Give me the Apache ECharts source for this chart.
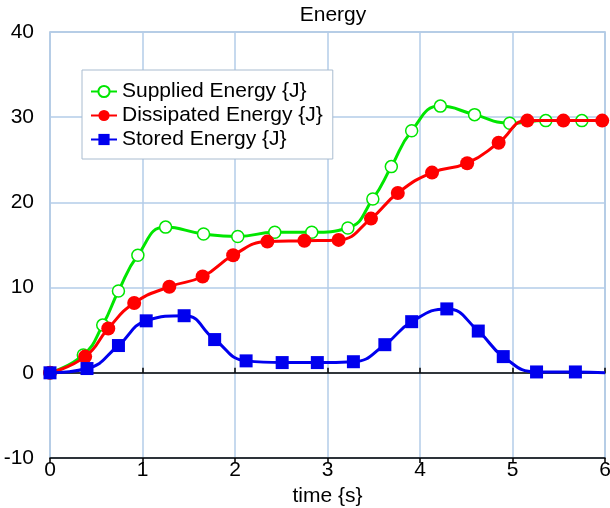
<!DOCTYPE html>
<html>
<head>
<meta charset="utf-8">
<script src="https://cdn.jsdelivr.net/npm/echarts@6/dist/echarts.min.js"></script>
<style>
  html, body { margin: 0; padding: 0; background: #fff; }
  #chart { width: 610px; height: 508px; }
</style>
</head>
<body>
<div id="chart"></div>
<script>
// values
const supX = [0, 0.36, 0.57, 0.74, 0.95, 1.25, 1.66, 2.03, 2.43, 2.83, 3.22, 3.49, 3.69, 3.91, 4.22, 4.59, 4.97, 5.36, 5.75, 6];
const supY = [0, 2.1, 5.6, 9.6, 13.8, 17.1, 16.3, 16.0, 16.5, 16.5, 17.0, 20.4, 24.2, 28.4, 31.3, 30.3, 29.3, 29.6, 29.6, 29.6];
const disX = [0, 0.38, 0.63, 0.91, 1.29, 1.65, 1.98, 2.35, 2.75, 3.12, 3.47, 3.76, 4.13, 4.51, 4.85, 5.16, 5.55, 5.97];
const disY = [0, 1.9, 5.2, 8.2, 10.1, 11.3, 13.8, 15.4, 15.5, 15.6, 18.1, 21.1, 23.5, 24.6, 27.0, 29.6, 29.6, 29.6];
const stoX = [0, 0.40, 0.74, 1.04, 1.45, 1.78, 2.12, 2.51, 2.89, 3.28, 3.62, 3.91, 4.29, 4.63, 4.90, 5.26, 5.68, 6];
const stoY = [0, 0.5, 3.2, 6.1, 6.7, 3.9, 1.4, 1.2, 1.2, 1.3, 3.3, 6.0, 7.5, 4.9, 1.9, 0.1, 0.1, 0];

const names = ["Supplied Energy {J}", "Dissipated Energy {J}", "Stored Energy {J}"];

const pairs = (xs, ys) => xs.map((x, i) => [x, ys[i]]);

const chart = echarts.init(document.getElementById("chart"));
const font = "Liberation Sans, Arial, sans-serif";
const fs = 21;
const gridBlue = "#b3cde8";

const zeroAxis = (inside) => ({
  type: "value",
  min: 0,
  max: 6,
  interval: 1,
  position: "bottom",
  axisLine: { onZero: true, lineStyle: { color: "#000", width: 1.5 } },
  axisTick: { show: true, inside: inside, length: 5, lineStyle: { color: "#000", width: 1.5 } },
  axisLabel: { show: false },
  splitLine: { show: false }
});

const option = {
  animation: false,
  title: {
    text: "Energy",
    left: 328,
    textAlign: "center",
    top: 0,
    textStyle: { fontFamily: font, fontSize: fs, fontWeight: "normal", color: "#000" }
  },
  grid: {
    left: 50,
    right: 5,
    top: 32,
    bottom: 50,
    outerBoundsMode: "none",
    show: true,
    borderColor: "#a9bdd6",
    borderWidth: 1.5
  },
  legend: {
    orient: "vertical",
    left: 82,
    top: 70,
    padding: [11, 10, 9, 8],
    itemGap: 3,
    itemWidth: 26,
    itemHeight: 14,
    backgroundColor: "#fff",
    borderColor: "#a9bcd0",
    borderWidth: 1,
    textStyle: { fontFamily: font, fontSize: fs, color: "#000" },
    data: names
  },
  xAxis: [
    {
      type: "value",
      min: 0,
      max: 6,
      interval: 1,
      position: "bottom",
      name: "time {s}",
      nameLocation: "middle",
      nameGap: 24,
      nameTextStyle: { fontFamily: font, fontSize: fs, color: "#000" },
      axisLine: { onZero: false, show: false },
      axisTick: { show: false },
      axisLabel: { fontFamily: font, fontSize: fs, color: "#000", margin: 2 },
      splitLine: { show: true, lineStyle: { color: gridBlue, width: 1.5 } }
    },
    zeroAxis(true),
    zeroAxis(false)
  ],
  yAxis: {
    type: "value",
    min: -10,
    max: 40,
    interval: 10,
    axisLine: { show: false },
    axisTick: { show: false },
    axisLabel: { fontFamily: font, fontSize: fs, color: "#000", margin: 16 },
    splitLine: { show: true, lineStyle: { color: gridBlue, width: 1.5 } }
  },
  series: [
    {
      name: names[0],
      type: "line",
      smooth: 0.5,
      data: pairs(supX, supY).map((p, i) => i === supX.length - 1 ? { value: p, symbol: "none" } : p),
      symbol: "circle",
      symbolSize: 12,
      color: "#00e600",
      itemStyle: { color: "#fff", borderColor: "#00e600", borderWidth: 1.5 },
      lineStyle: { color: "#00e600", width: 3 },
      z: 3
    },
    {
      name: names[1],
      type: "line",
      smooth: 0.5,
      data: pairs(disX, disY),
      symbol: "circle",
      symbolSize: 14,
      color: "#ff0000",
      itemStyle: { color: "#ff0000" },
      lineStyle: { color: "#ff0000", width: 3 },
      z: 4
    },
    {
      name: names[2],
      type: "line",
      smooth: 0.5,
      data: pairs(stoX, stoY).map((p, i) => i === stoX.length - 1 ? { value: p, symbol: "none" } : p),
      symbol: "rect",
      symbolSize: 13,
      color: "#0000ee",
      itemStyle: { color: "#0000ee" },
      lineStyle: { color: "#0000ee", width: 3 },
      z: 5
    }
  ]
};

chart.setOption(option);
</script>
</body>
</html>
